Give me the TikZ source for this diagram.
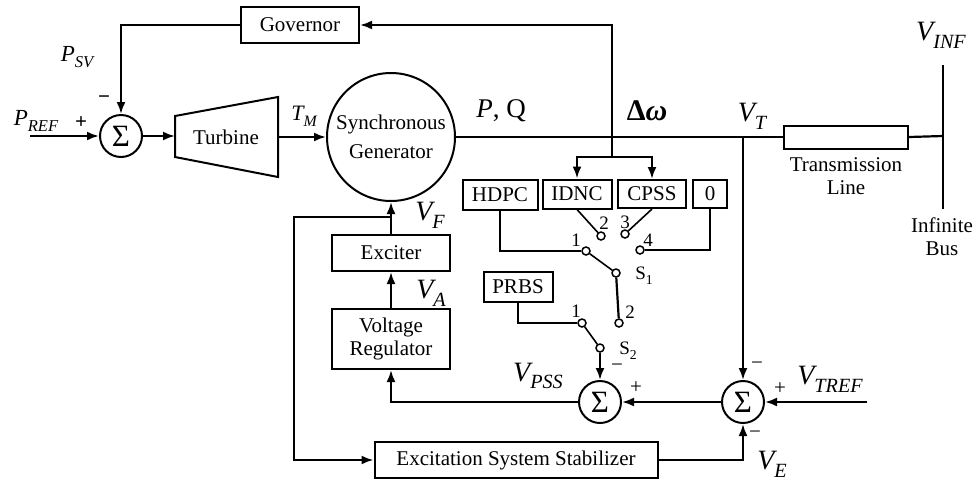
\documentclass[tikz,border=0pt]{standalone}
\usepackage{fontspec}
\setmainfont{Liberation Serif}
\usetikzlibrary{arrows.meta}

% lowered, smaller subscript for the signal names
\newcommand{\sub}[1]{\raisebox{-0.28em}{\scalebox{0.72}{#1}}}

\begin{document}
\begin{tikzpicture}[x=1pt, y=-1pt,
    font=\fontsize{21}{23}\selectfont,
    wire/.style={line width=2.2pt},
    thinwire/.style={line width=1.6pt},
    arw/.style={line width=2.2pt, -{Latex[length=12pt,width=9pt]}},
    blk/.style={draw, line width=2pt, minimum height=36pt, inner sep=0pt, align=center},
    sumnode/.style={draw, circle, line width=2pt, minimum size=42pt, inner sep=0pt,
        font=\fontsize{31}{31}\selectfont},
    contact/.style={draw, circle, fill=white, line width=1.5pt, minimum size=8pt, inner sep=0pt},
    sig/.style={font=\fontsize{28}{30}\selectfont\itshape, inner sep=0pt},
    sgn/.style={font=\fontsize{21}{21}\selectfont, inner sep=0pt},
    num/.style={font=\fontsize{19}{19}\selectfont, inner sep=0pt}]
    \useasboundingbox (0,0) rectangle (974,480);

    % Define the blocks
    \node[blk, minimum width=118pt] (gov) at (300,25) {Governor};
    \node[sumnode] (sum1) at (121,136) {Σ};
    \node (turb) at (226,137) {Turbine};
    \node[draw, circle, line width=2pt, minimum size=128pt, inner sep=0pt, align=center,
        font=\fontsize{21}{29}\selectfont] (gen) at (391,137) {Synchronous\\Generator};
    \node[blk, minimum width=118pt] (exc) at (391,253) {Exciter};
    \node[blk, minimum width=118pt, minimum height=60pt] (vr) at (391,339) {Voltage\\Regulator};
    \node[blk, minimum width=283pt] (ess) at (516,460) {Excitation System Stabilizer};
    \node[sumnode] (sum2) at (600,402) {Σ};
    \node[sumnode] (sum3) at (743,402) {Σ};
    \node[draw, line width=2pt, minimum width=124pt, minimum height=23pt] (tl) at (846,137) {};
    \node[align=center] (tltext) at (846,176) {Transmission\\Line};
    \node[align=center] (bustext) at (942,237) {Infinite\\Bus};

    % Define the controller blocks and the switches
    \node[blk, minimum width=75pt, minimum height=30pt] (hdpc) at (500,195) {HDPC};
    \node[blk, minimum width=69pt, minimum height=29pt] (idnc) at (577,194) {IDNC};
    \node[blk, minimum width=68pt, minimum height=28pt] (cpss) at (652,194) {CPSS};
    \node[blk, minimum width=34pt, minimum height=28pt] (zero) at (710,194) {0};
    \node[blk, minimum width=69pt, minimum height=30pt] (prbs) at (518,287) {PRBS};
    \node[contact] (c11) at (586,251) {};
    \node[contact] (c12) at (601,236) {};
    \node[contact] (c13) at (625,234) {};
    \node[contact] (c14) at (640,250) {};
    \node[contact] (p1) at (616,273) {};
    \node[contact] (c21) at (582,323) {};
    \node[contact] (c22) at (619,323) {};
    \node[contact] (p2) at (600,348) {};

    % Define the free ends and the branch points
    \coordinate (pref) at (30,136);
    \coordinate (vtref) at (867,402);
    \coordinate (dw) at (612,157);
    \coordinate (vt) at (743,137);
    \coordinate (vf) at (391,217);
    \coordinate (fb) at (294,217);

    % Turbine
    \draw[line width=2pt] (175,116) -- (278,97) -- (278,177) -- (175,157) -- cycle;

    % Draw the mechanical loop
    \draw[arw] (pref) -- (sum1.west);
    \draw[arw] (sum1.east) -- (175,136);
    \draw[arw] (278,137) -- (gen.west);
    \draw[arw] (gov.west) -| (sum1.north);
    \draw[arw] (dw) |- (gov.east);
    \draw[arw] (dw) -| (idnc.north);
    \draw[arw] (dw) -| (cpss.north);

    % Draw the network side
    \draw[wire] (gen.east) -- (tl.west);
    \draw[wire] (tl.east) -- (943,136);
    \draw[line width=1.6pt] (943,65) -- (943,209);
    \draw[arw] (vt) -- (sum3.north);
    \draw[arw] (vtref) -- (sum3.east);
    \draw[arw] (sum3.west) -- (sum2.east);
    \draw[arw] (ess.east) -| (sum3.south);

    % Draw the excitation loop
    \draw[arw] (sum2.west) -| (vr.south);
    \draw[arw] (vr.north) -- (exc.south);
    \draw[arw] (exc.north) -- (gen.south);
    \draw[arw] (vf) -- (fb) |- (ess.west);

    % Draw the switches
    \draw[wire] (hdpc.south) |- (c11);
    \draw[thinwire] (idnc.south) -- (c12);
    \draw[thinwire] (cpss.south) -- (c13);
    \draw[wire] (zero.south) |- (c14);
    \draw[thinwire] (c11) -- (p1);
    \draw[wire] (p1) -- (c22);
    \draw[wire] (prbs.south) |- (c21);
    \draw[thinwire] (c21) -- (p2);
    \draw[arw] (p2) -- (sum2.north);

    % Place the switch labels
    \node[num] at (576,240) {1};
    \node[num] at (604,223) {2};
    \node[num] at (625,222) {3};
    \node[num] at (648,240) {4};
    \node[num] at (644,276) {S\sub{1}};
    \node[num] at (630,312) {2};
    \node[num] at (576,311) {1};
    \node[num] at (628,351) {S\sub{2}};

    % Place the signs at the summing points
    \node[sgn, font=\fontsize{21}{21}\selectfont\bfseries] at (81,123) {+};
    \node[sgn, font=\fontsize{21}{21}\selectfont\bfseries] at (104,100) {−};
    \node[sgn] at (617,368) {−};
    \node[sgn] at (636,388) {+};
    \node[sgn] at (757,366) {−};
    \node[sgn] at (780,389) {+};
    \node[sgn] at (755,435) {−};

    % Place the signal names
    \node[sig, font=\fontsize{23}{25}\selectfont\itshape] at (36,121) {P\sub{REF}};
    \node[sig, font=\fontsize{23}{25}\selectfont\itshape] at (77,57) {P\sub{SV}};
    \node[sig, font=\fontsize{22}{24}\selectfont\itshape] at (304,116) {T\sub{M}};
    \node[sig, font=\fontsize{27}{29}\selectfont] at (501,111) {\textit{P}, Q};
    \node[sig, font=\fontsize{30}{32}\selectfont\bfseries] at (647,111) {Δ\textit{ω}};
    \node[sig] at (752,116) {V\sub{T}};
    \node[sig] at (941,35) {V\sub{INF}};
    \node[sig] at (430,215) {V\sub{F}};
    \node[sig] at (431,293) {V\sub{A}};
    \node[sig] at (538,376) {V\sub{PSS}};
    \node[sig] at (830,379) {V\sub{TREF}};
    \node[sig] at (772,464) {V\sub{E}};
\end{tikzpicture}
\end{document}
